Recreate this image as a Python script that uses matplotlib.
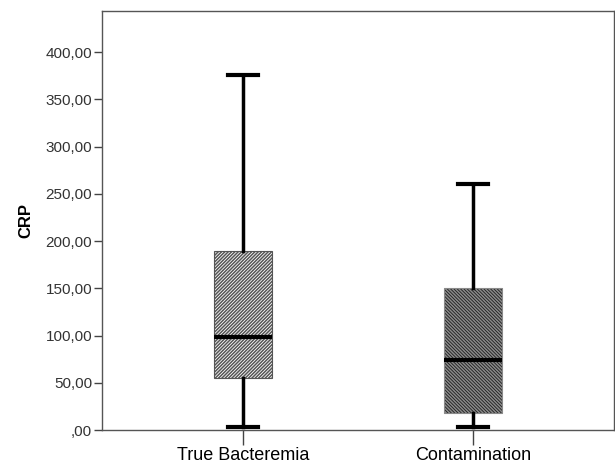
import matplotlib
import matplotlib.pyplot as plt
import numpy as np

plt.switch_backend('agg')
plt.rcParams['font.family'] = ['Liberation Sans', 'DejaVu Sans']
plt.rcParams['hatch.linewidth'] = 1.1

# box statistics
groups = ['True Bacteremia', 'Contamination']
whislo = [3.5, 3.5]
q1 = [55.0, 18.3]
med = [98.8, 74.0]
q3 = [189.4, 150.0]
whishi = [375.7, 260.3]

yticks = [0, 50, 100, 150, 200, 250, 300, 350, 400]
ylabels = [',00', '50,00', '100,00', '150,00', '200,00', '250,00', '300,00', '350,00', '400,00']

stats = []
for i, g in enumerate(groups):
    stats.append({'label': g, 'whislo': whislo[i], 'q1': q1[i], 'med': med[i],
                  'q3': q3[i], 'whishi': whishi[i], 'fliers': []})

fig = plt.figure(figsize=(6.15, 4.66), dpi=100)
ax = fig.add_axes([102/615, 1 - 430/466, 512/615, 419/466])

bp = ax.bxp(stats, positions=[1, 2], widths=0.256, patch_artist=True,
            showfliers=False,
            whiskerprops=dict(color='black', linewidth=2.5),
            capprops=dict(color='black', linewidth=3),
            medianprops=dict(color='black', linewidth=3),
            boxprops=dict(linewidth=0.8))
bp['boxes'][0].set_facecolor('white')
bp['boxes'][0].set_edgecolor('#555555')
bp['boxes'][0].set_hatch('//////////')
bp['boxes'][1].set_facecolor('#1a1a1a')
bp['boxes'][1].set_edgecolor('#8a8a8a')
bp['boxes'][1].set_hatch('\\\\\\\\\\\\\\\\\\\\')

ax.set_xlim(0.387, 2.613)
ax.set_ylim(0, 443.4)
ax.set_yticks(yticks)
ax.set_yticklabels(ylabels, fontsize=11, color='#333333')
ax.set_xticks([1, 2])
ax.set_xticklabels(groups, fontsize=13, color='black')
ax.tick_params(axis='x', length=11, width=1, color='#444444', pad=1)
ax.tick_params(axis='y', length=6, width=1, color='#444444', pad=1)
for s in ax.spines.values():
    s.set_color('#555555')
    s.set_linewidth(1.0)
ax.set_ylabel('CRP', fontsize=12, fontweight='bold', labelpad=9)

plt.savefig('out.png', dpi=100)
